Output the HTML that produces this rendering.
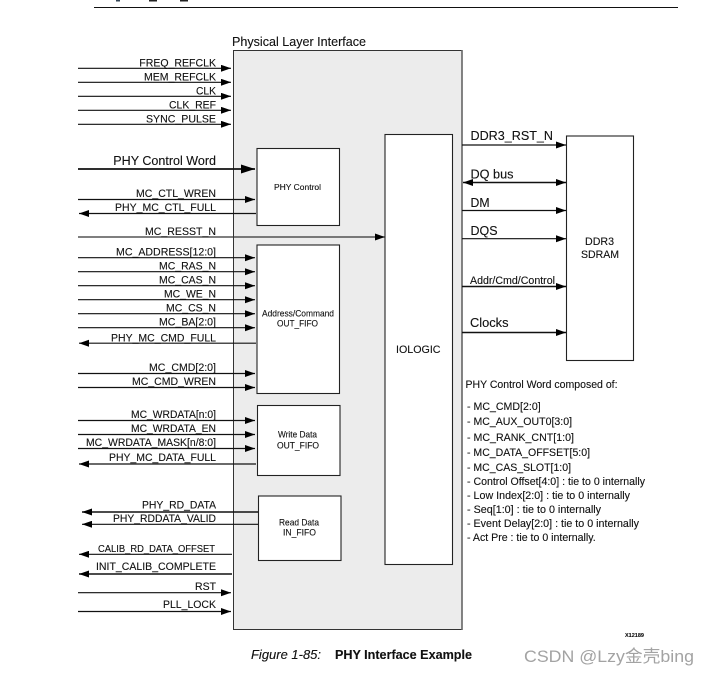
<!DOCTYPE html>
<html><head><meta charset="utf-8"><style>
html,body{margin:0;padding:0;background:#fff}
svg{display:block}
text{font-family:"Liberation Sans","Noto Sans CJK SC",sans-serif;fill:#111;font-size:11px;stroke:#111;stroke-width:.12}
line{stroke:#111;stroke-width:1.2}
.box{fill:#fff;stroke:#222;stroke-width:1.1}
</style></head><body>
<svg width="709" height="675" viewBox="0 0 709 675" xmlns="http://www.w3.org/2000/svg">
<defs>
<marker id="a" markerUnits="userSpaceOnUse" markerWidth="11" markerHeight="8" refX="10" refY="3.5" orient="auto"><path d="M0 0L10 3.5L0 7z" fill="#000"/></marker>
<marker id="s" markerUnits="userSpaceOnUse" markerWidth="11" markerHeight="8" refX="0" refY="3.5" orient="auto"><path d="M10 0L0 3.5L10 7z" fill="#000"/></marker>
<marker id="b" markerUnits="userSpaceOnUse" markerWidth="15" markerHeight="10" refX="14" refY="4.5" orient="auto"><path d="M0 0L14 4.5L0 9z" fill="#000"/></marker>
</defs>
<rect width="709" height="675" fill="#fff"/>
<line x1="94" y1="7.5" x2="678" y2="7.5" style="stroke-width:1"/>
<rect x="116" y="0" width="4" height="1.5" fill="#345"/><rect x="149" y="0" width="8" height="1.5" fill="#222"/><rect x="180" y="0" width="8" height="1.5" fill="#222"/>

<rect x="233.5" y="50.5" width="228.5" height="579" fill="#ececec" stroke="#333" stroke-width="1"/>
<line x1="462" y1="50" x2="462" y2="630" style="stroke:#666;stroke-width:1.6"/>
<rect class="box" x="257" y="148.5" width="82.5" height="77"/>
<rect class="box" x="257" y="245" width="82.5" height="148.5"/>
<rect class="box" x="257.5" y="405.5" width="82.5" height="70"/>
<rect class="box" x="258.5" y="496" width="82.5" height="64.5"/>
<rect class="box" x="385" y="134.5" width="67.5" height="430"/>
<rect class="box" x="566.5" y="136" width="67" height="224.5"/>

<!-- left input arrows -->
<line x1="78" y1="68.3" x2="231" y2="68.3" marker-end="url(#a)"/>
<line x1="78" y1="82.3" x2="231" y2="82.3" marker-end="url(#a)"/>
<line x1="78" y1="96.3" x2="231" y2="96.3" marker-end="url(#a)"/>
<line x1="78" y1="110.3" x2="231" y2="110.3" marker-end="url(#a)"/>
<line x1="78" y1="124.3" x2="231" y2="124.3" marker-end="url(#a)"/>
<line x1="78" y1="169" x2="255" y2="169" style="stroke-width:1.7" marker-end="url(#b)"/>
<line x1="78" y1="199.5" x2="255" y2="199.5" marker-end="url(#a)"/>
<line x1="79" y1="213.5" x2="256" y2="213.5" marker-start="url(#s)"/>
<line x1="78" y1="237" x2="385" y2="237" style="stroke:#333" marker-end="url(#a)"/>
<line x1="78" y1="257.7" x2="255" y2="257.7" marker-end="url(#a)"/>
<line x1="78" y1="271.7" x2="255" y2="271.7" marker-end="url(#a)"/>
<line x1="78" y1="285.7" x2="255" y2="285.7" marker-end="url(#a)"/>
<line x1="78" y1="299.7" x2="255" y2="299.7" marker-end="url(#a)"/>
<line x1="78" y1="313.7" x2="255" y2="313.7" marker-end="url(#a)"/>
<line x1="78" y1="327.7" x2="255" y2="327.7" marker-end="url(#a)"/>
<line x1="79" y1="343.2" x2="256" y2="343.2" marker-start="url(#s)"/>
<line x1="78" y1="373.5" x2="255" y2="373.5" marker-end="url(#a)"/>
<line x1="78" y1="387.5" x2="255" y2="387.5" marker-end="url(#a)"/>
<line x1="78" y1="420.5" x2="255" y2="420.5" marker-end="url(#a)"/>
<line x1="78" y1="434.5" x2="255" y2="434.5" marker-end="url(#a)"/>
<line x1="78" y1="448.5" x2="255" y2="448.5" marker-end="url(#a)"/>
<line x1="79" y1="464" x2="256" y2="464" marker-start="url(#s)"/>
<line x1="82" y1="512" x2="258" y2="512" style="stroke-width:1.4" marker-start="url(#s)"/>
<line x1="82" y1="524.3" x2="258" y2="524.3" marker-start="url(#s)"/>
<line x1="79" y1="554.3" x2="232" y2="554.3" marker-start="url(#s)"/>
<line x1="79" y1="574" x2="232" y2="574" style="stroke-width:1.4" marker-start="url(#s)"/>
<line x1="78" y1="592.7" x2="231" y2="592.7" marker-end="url(#a)"/>
<line x1="78" y1="611.5" x2="231" y2="611.5" marker-end="url(#a)"/>

<!-- right arrows -->
<line x1="462" y1="145" x2="566" y2="145" marker-end="url(#a)"/>
<line x1="463" y1="182.5" x2="566" y2="182.5" style="stroke-width:1.6" marker-start="url(#s)" marker-end="url(#a)"/>
<line x1="462" y1="210.5" x2="566" y2="210.5" marker-end="url(#a)"/>
<line x1="462" y1="238.7" x2="566" y2="238.7" marker-end="url(#a)"/>
<line x1="462" y1="286.5" x2="566" y2="286.5" style="stroke-width:1.5" marker-end="url(#a)"/>
<line x1="462" y1="332.5" x2="566" y2="332.5" style="stroke-width:1.5" marker-end="url(#a)"/>

<!-- left labels -->
<text x="232" y="46" textLength="134" lengthAdjust="spacingAndGlyphs" style="font-size:13px">Physical Layer Interface</text>
<text x="139.3" y="66.7" textLength="76.7" lengthAdjust="spacingAndGlyphs">FREQ_REFCLK</text>
<text x="144" y="80.7" textLength="72" lengthAdjust="spacingAndGlyphs">MEM_REFCLK</text>
<text x="196" y="94.7" textLength="20" lengthAdjust="spacingAndGlyphs">CLK</text>
<text x="169" y="108.7" textLength="47" lengthAdjust="spacingAndGlyphs">CLK_REF</text>
<text x="146" y="122.7" textLength="70" lengthAdjust="spacingAndGlyphs">SYNC_PULSE</text>
<text x="113.3" y="165" textLength="102.7" lengthAdjust="spacingAndGlyphs" style="font-size:13px">PHY Control Word</text>
<text x="136" y="197" textLength="80" lengthAdjust="spacingAndGlyphs">MC_CTL_WREN</text>
<text x="115" y="211" textLength="101" lengthAdjust="spacingAndGlyphs">PHY_MC_CTL_FULL</text>
<text x="145" y="235" textLength="71" lengthAdjust="spacingAndGlyphs">MC_RESST_N</text>
<text x="116" y="255.7" textLength="100" lengthAdjust="spacingAndGlyphs">MC_ADDRESS[12:0]</text>
<text x="159" y="269.5" textLength="57" lengthAdjust="spacingAndGlyphs">MC_RAS_N</text>
<text x="159" y="283.5" textLength="57" lengthAdjust="spacingAndGlyphs">MC_CAS_N</text>
<text x="164" y="297.5" textLength="52" lengthAdjust="spacingAndGlyphs">MC_WE_N</text>
<text x="166" y="311.5" textLength="50" lengthAdjust="spacingAndGlyphs">MC_CS_N</text>
<text x="159" y="325.5" textLength="57" lengthAdjust="spacingAndGlyphs">MC_BA[2:0]</text>
<text x="111" y="341.5" textLength="105" lengthAdjust="spacingAndGlyphs">PHY_MC_CMD_FULL</text>
<text x="149" y="371" textLength="67" lengthAdjust="spacingAndGlyphs">MC_CMD[2:0]</text>
<text x="132" y="385" textLength="84" lengthAdjust="spacingAndGlyphs">MC_CMD_WREN</text>
<text x="131" y="418" textLength="85" lengthAdjust="spacingAndGlyphs">MC_WRDATA[n:0]</text>
<text x="131" y="432" textLength="85" lengthAdjust="spacingAndGlyphs">MC_WRDATA_EN</text>
<text x="86" y="446" textLength="130" lengthAdjust="spacingAndGlyphs">MC_WRDATA_MASK[n/8:0]</text>
<text x="109" y="461" textLength="107" lengthAdjust="spacingAndGlyphs">PHY_MC_DATA_FULL</text>
<text x="142" y="508.5" textLength="74" lengthAdjust="spacingAndGlyphs">PHY_RD_DATA</text>
<text x="113" y="522" textLength="103" lengthAdjust="spacingAndGlyphs">PHY_RDDATA_VALID</text>
<text x="98" y="552" textLength="117" lengthAdjust="spacingAndGlyphs" style="font-size:10px">CALIB_RD_DATA_OFFSET</text>
<text x="96" y="570" textLength="120" lengthAdjust="spacingAndGlyphs">INIT_CALIB_COMPLETE</text>
<text x="195" y="590" textLength="21" lengthAdjust="spacingAndGlyphs">RST</text>
<text x="163" y="608" textLength="53" lengthAdjust="spacingAndGlyphs">PLL_LOCK</text>

<!-- box labels -->
<text x="274" y="190" textLength="47" lengthAdjust="spacingAndGlyphs" style="font-size:8.5px">PHY Control</text>
<text x="262" y="316.7" textLength="72" lengthAdjust="spacingAndGlyphs" style="font-size:9px">Address/Command</text>
<text x="277" y="326.7" textLength="41" lengthAdjust="spacingAndGlyphs" style="font-size:9px">OUT_FIFO</text>
<text x="278" y="437.7" textLength="39" lengthAdjust="spacingAndGlyphs" style="font-size:9px">Write Data</text>
<text x="277" y="448.7" textLength="42" lengthAdjust="spacingAndGlyphs" style="font-size:9px">OUT_FIFO</text>
<text x="279" y="525.7" textLength="40" lengthAdjust="spacingAndGlyphs" style="font-size:9px">Read Data</text>
<text x="283" y="535.7" textLength="33" lengthAdjust="spacingAndGlyphs" style="font-size:9px">IN_FIFO</text>
<text x="396" y="353" textLength="44.5" lengthAdjust="spacingAndGlyphs">IOLOGIC</text>
<text x="585" y="245" textLength="29" lengthAdjust="spacingAndGlyphs">DDR3</text>
<text x="581" y="258" textLength="38" lengthAdjust="spacingAndGlyphs">SDRAM</text>

<!-- right labels -->
<text x="470.5" y="140" textLength="82.5" lengthAdjust="spacingAndGlyphs" style="font-size:13px">DDR3_RST_N</text>
<text x="470.5" y="178.5" textLength="43" lengthAdjust="spacingAndGlyphs" style="font-size:13px">DQ bus</text>
<text x="470.5" y="207" textLength="19" lengthAdjust="spacingAndGlyphs" style="font-size:13px">DM</text>
<text x="470.5" y="235" textLength="27" lengthAdjust="spacingAndGlyphs" style="font-size:13px">DQS</text>
<text x="470" y="284" textLength="85" lengthAdjust="spacingAndGlyphs">Addr/Cmd/Control</text>
<text x="470" y="327" textLength="38.5" lengthAdjust="spacingAndGlyphs" style="font-size:13px">Clocks</text>

<!-- list -->
<text x="465.5" y="388" textLength="152" lengthAdjust="spacingAndGlyphs">PHY Control Word composed of:</text>
<text x="467" y="410" textLength="73.7" lengthAdjust="spacingAndGlyphs">- MC_CMD[2:0]</text>
<text x="467" y="425" textLength="105" lengthAdjust="spacingAndGlyphs">- MC_AUX_OUT0[3:0]</text>
<text x="467" y="441" textLength="107" lengthAdjust="spacingAndGlyphs">- MC_RANK_CNT[1:0]</text>
<text x="467" y="456" textLength="123" lengthAdjust="spacingAndGlyphs">- MC_DATA_OFFSET[5:0]</text>
<text x="467" y="471" textLength="104" lengthAdjust="spacingAndGlyphs">- MC_CAS_SLOT[1:0]</text>
<text x="467" y="485" textLength="178" lengthAdjust="spacingAndGlyphs">- Control Offset[4:0] : tie to 0 internally</text>
<text x="467" y="499" textLength="163" lengthAdjust="spacingAndGlyphs">- Low Index[2:0]  : tie to 0 internally</text>
<text x="467" y="513" textLength="134" lengthAdjust="spacingAndGlyphs">- Seq[1:0]  : tie to 0 internally</text>
<text x="467" y="527" textLength="172" lengthAdjust="spacingAndGlyphs">- Event Delay[2:0]  : tie to 0 internally</text>
<text x="467" y="541" textLength="128.7" lengthAdjust="spacingAndGlyphs">- Act Pre : tie to 0 internally.</text>

<!-- caption and watermark -->
<text x="625" y="637" textLength="19" lengthAdjust="spacingAndGlyphs" style="font-size:5.5px;font-weight:bold">X12189</text>
<text x="251" y="659" textLength="70" lengthAdjust="spacingAndGlyphs" style="font-size:12.5px;font-style:italic">Figure 1-85:</text>
<text x="335" y="659" textLength="137" lengthAdjust="spacingAndGlyphs" style="font-size:12.5px;font-weight:bold">PHY Interface Example</text>
<text x="524" y="662" textLength="170" lengthAdjust="spacingAndGlyphs" style="font-size:17px;fill:#a3a3a3;stroke:none">CSDN @Lzy金壳bing</text>
</svg>
</body></html>
